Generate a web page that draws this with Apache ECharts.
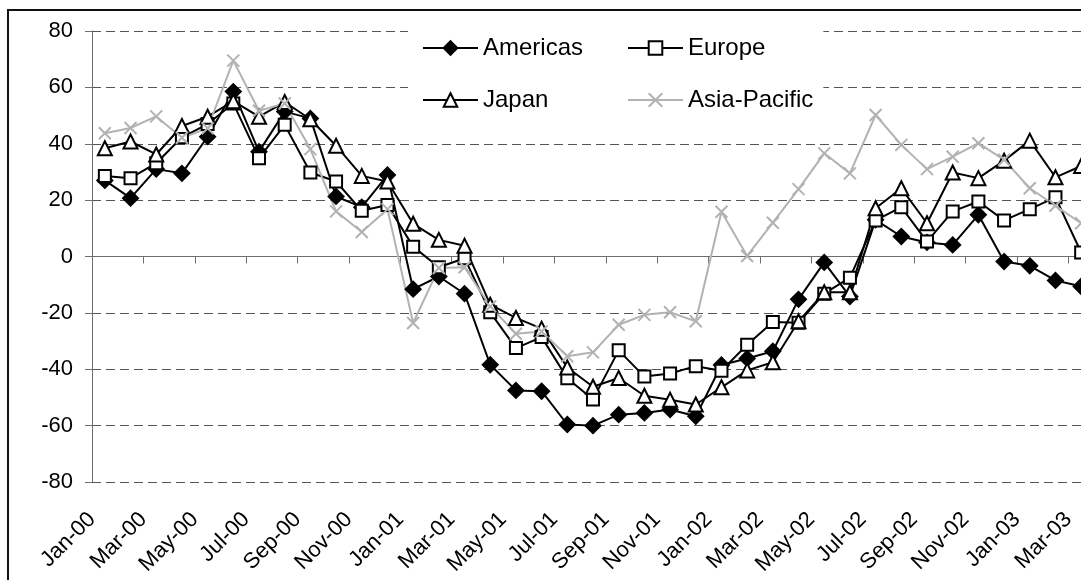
<!DOCTYPE html>
<html>
<head>
<meta charset="utf-8">
<script src="https://cdn.jsdelivr.net/npm/echarts@6/dist/echarts.min.js"></script>
<style>
  html, body { margin: 0; padding: 0; background: #fff; }
  #chart { width: 1081px; height: 580px; }
</style>
</head>
<body>
<div id="chart"></div>
<script>
// Monthly categories, Jan-00 .. Mar-03
const months = [
  'Jan-00','Feb-00','Mar-00','Apr-00','May-00','Jun-00','Jul-00','Aug-00','Sep-00','Oct-00','Nov-00','Dec-00',
  'Jan-01','Feb-01','Mar-01','Apr-01','May-01','Jun-01','Jul-01','Aug-01','Sep-01','Oct-01','Nov-01','Dec-01',
  'Jan-02','Feb-02','Mar-02','Apr-02','May-02','Jun-02','Jul-02','Aug-02','Sep-02','Oct-02','Nov-02','Dec-02',
  'Jan-03','Feb-03','Mar-03'
];

const americas = [
  27, 20.7, 31.0, 29.5, 42.5, 58.5, 37.2, 51.4, 49.0, 21.3,
  17.5, 28.9, -11.6, -7.1, -13.2, -38.4, -47.5, -47.8, -59.6, -60.0,
  -56.1, -55.5, -54.3, -56.7, -38.5, -36.2, -33.6, -15.2, -2.1, -14.2,
  13, 7.1, 5.0, 4.1, 14.8, -1.8, -3.3, -8.5, -10.6
];

const europe = [
  28.6, 27.8, 33.1, 42.3, 47, 54.3, 34.9, 46.7, 29.8, 26.6,
  16.2, 18.3, 3.5, -3.8, -0.6, -19.8, -32.5, -28.6, -43.2, -50.7,
  -33.3, -42.6, -41.5, -38.9, -40.5, -31.3, -23.2, -23.5, -13.2, -7.5,
  12.8, 17.5, 5.3, 16.0, 19.5, 12.8, 16.8, 21.0, 1.4
];

const japan = [
  38.4, 40.8, 36.2, 46.3, 49.6, 55.1, 49.6, 54.8, 48.7, 39.3,
  28.6, 26.6, 11.6, 5.9, 3.8, -17.1, -21.8, -25.6, -39.4, -46.2,
  -43.1, -49.4, -50.8, -52.5, -46.4, -40.4, -37.5, -23.0, -12.7, -12.7,
  17.1, 24.2, 11.8, 29.8, 27.8, 34.0, 41.1, 28.1, 32.1
];

const asiaPacific = [
  43.7, 45.6, 49.7, 42.1, 45.5, 69.5, 51.7, 54.3, 38.1, 16.0,
  8.7, 16.8, -23.6, -4.1, -3.8, -17.7, -27.4, -26.6, -35.4, -34.0,
  -24.2, -20.7, -19.8, -23.0, 15.9, 0.2, 12.0, 23.9, 36.6, 29.5,
  50.2, 39.6, 31.0, 35.4, 40.2, 34.3, 24.2, 18.0, 11.8
];

const yTicks = { min: -80, max: 80, step: 20 };

const FONT = '"Liberation Sans", Arial, sans-serif';
const INK = '#000';
const GREY = '#b2b2b2';
const AXIS = '#6e6e6e';
const GRID = '#555';
const CROSS = 'path://M0,0L10,10M0,10L10,0';

const chart = echarts.init(document.getElementById('chart'), null, { renderer: 'canvas' });

function lineSeries(name, values, symbol, size, lineColor, fill, border) {
  return {
    name: name,
    type: 'line',
    xAxisIndex: 0,
    yAxisIndex: 0,
    data: values,
    symbol: symbol,
    symbolSize: size,
    showAllSymbol: true,
    lineStyle: { color: lineColor, width: 2 },
    itemStyle: { color: fill, borderColor: border, borderWidth: 2 },
    emphasis: { disabled: true }
  };
}

// hide the dashed split line at zero, the axis line sits there
const splitColors = [];
for (let v = yTicks.min; v <= yTicks.max; v += yTicks.step) {
  splitColors.push(v === 0 ? 'rgba(0,0,0,0)' : GRID);
}

const legendBase = {
  orient: 'vertical',
  top: 22,
  itemGap: 28,
  itemWidth: 55,
  itemHeight: 17,
  backgroundColor: '#fff',
  selectedMode: false,
  textStyle: { fontSize: 24, color: INK, fontFamily: FONT }
};

const option = {
  animation: false,
  backgroundColor: '#fff',
  textStyle: { fontFamily: FONT },
  graphic: [{
    type: 'rect',
    z: 100,
    silent: true,
    shape: { x: 8, y: 10, width: 1100, height: 600 },
    style: { fill: 'none', stroke: '#111', lineWidth: 2 }
  }],
  grid: {
    left: 92, right: -13, top: 31, bottom: 98,
    containLabel: false,
    outerBoundsMode: 'none'
  },
  legend: [
    Object.assign({}, legendBase, {
      data: ['Americas', 'Japan'],
      left: 408,
      padding: [14, 24, 10, 14]
    }),
    Object.assign({}, legendBase, {
      data: ['Europe', 'Asia-Pacific'],
      left: 600,
      padding: [14, 10, 10, 27]
    })
  ],
  xAxis: [
    {
      type: 'category',
      data: months,
      boundaryGap: true,
      axisLine: { show: true, onZero: true, lineStyle: { color: AXIS, width: 1 } },
      axisTick: { show: true, interval: 1, length: 7, lineStyle: { color: AXIS } },
      axisLabel: { show: false },
      splitLine: { show: false }
    },
    {
      type: 'value',
      position: 'bottom',
      min: 0,
      max: months.length,
      interval: 2,
      axisLine: { show: false, onZero: false },
      axisTick: { show: false },
      splitLine: { show: false },
      axisLabel: {
        rotate: 45,
        margin: 34,
        fontSize: 22,
        color: INK,
        fontFamily: FONT,
        showMinLabel: true,
        showMaxLabel: true,
        hideOverlap: false,
        formatter: function (v) {
          return (v % 2 === 0 && months[v]) ? months[v] : '';
        }
      }
    }
  ],
  yAxis: {
    type: 'value',
    min: yTicks.min,
    max: yTicks.max,
    interval: yTicks.step,
    axisLine: { show: true, onZero: false, lineStyle: { color: AXIS, width: 1 } },
    axisTick: { show: true, length: 7, lineStyle: { color: AXIS } },
    axisLabel: { fontSize: 22, margin: 19, color: INK, fontFamily: FONT },
    splitLine: { show: true, lineStyle: { type: [9, 5], color: splitColors, width: 1 } }
  },
  series: [
    lineSeries('Americas', americas, 'diamond', 15, INK, INK, INK),
    lineSeries('Europe', europe, 'rect', 12, INK, '#fff', INK),
    lineSeries('Japan', japan, 'triangle', 14, INK, '#fff', INK),
    lineSeries('Asia-Pacific', asiaPacific, CROSS, 12, GREY, GREY, GREY)
  ]
};

chart.setOption(option);
</script>
</body>
</html>
